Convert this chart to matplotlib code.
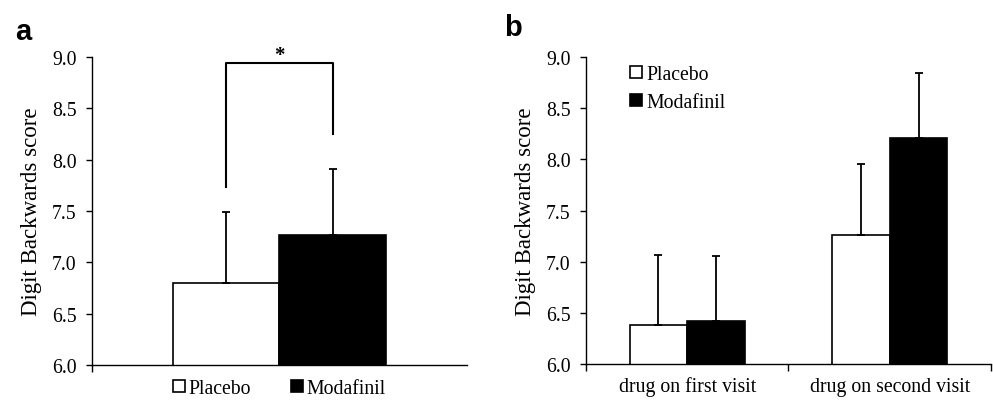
import matplotlib
matplotlib.use("Agg")
import matplotlib.pyplot as plt

plt.rcParams['font.family'] = ['Liberation Serif', 'DejaVu Serif']

# panel a: overall means
cond_a = ["Placebo", "Modafinil"]
mean_a = [6.80, 7.27]
err_a = [0.69, 0.64]

# significance bracket (top, left leg bottom, right leg bottom)
bracket_top = 8.94
bracket_legs = [7.73, 8.25]

# panel b: split by visit
visits = ["drug on first visit", "drug on second visit"]
placebo_b = [6.38, 7.26]
placebo_b_err = [0.69, 0.69]
modafinil_b = [6.42, 8.21]
modafinil_b_err = [0.64, 0.63]

colors = ["white", "black"]
w = 0.285
fs = 14.2

fig = plt.figure(figsize=(9.93, 4.02), dpi=100)
ax1 = fig.add_axes([0.0926, 0.0896, 0.3776, 0.766])
ax2 = fig.add_axes([0.5901, 0.092, 0.4079, 0.7637])


def style(ax):
    ax.set_ylim(6.0, 9.0)
    ax.set_yticks([6.0, 6.5, 7.0, 7.5, 8.0, 8.5, 9.0])
    ax.set_yticklabels(["%.1f" % v for v in ax.get_yticks()], fontsize=fs)
    ax.spines['top'].set_visible(False)
    ax.spines['right'].set_visible(False)
    ax.spines['left'].set_linewidth(1.0)
    ax.spines['bottom'].set_linewidth(1.0)
    ax.tick_params(axis='y', direction='out', length=4, width=1.0, pad=7)
    ax.tick_params(axis='x', direction='out', length=5, width=1.0)
    ax.set_ylabel("Digit Backwards score", fontsize=16.5, labelpad=7)


# ---- panel a
style(ax1)
ax1.set_xlim(0, 1)
xa = [0.5 - w / 2, 0.5 + w / 2]
bars = []
for i in range(2):
    b = ax1.bar(xa[i], mean_a[i], w, color=colors[i], edgecolor="black",
                linewidth=1.2, label=cond_a[i], zorder=2)
    bars.append(b)
    ax1.errorbar(xa[i], mean_a[i], yerr=[[0], [err_a[i]]], fmt="none",
                 ecolor="black", elinewidth=1.3, capsize=2.6, capthick=1.3, zorder=3)
ax1.set_xticks([0])
ax1.set_xticklabels([""])

ax1.plot([xa[0], xa[0], xa[1], xa[1]],
         [bracket_legs[0], bracket_top, bracket_top, bracket_legs[1]],
         color="black", lw=1.5, clip_on=False)
ax1.text(0.5, bracket_top - 0.02, "*", ha="center", va="bottom",
         fontsize=15, fontweight="bold", clip_on=False)

ax1.legend(handles=bars, loc="upper center", bbox_to_anchor=(0.5, -0.02),
           ncol=2, frameon=False, fontsize=fs, handlelength=0.6, handleheight=0.6,
           handletextpad=0.2, columnspacing=2.0, borderaxespad=0)

fig.text(0.015, 0.955, "a", fontsize=21, fontweight="bold",
         family="Liberation Sans", va="top")

# ---- panel b
style(ax2)
ax2.set_xlim(0, 2)
centers = [0.5, 1.5]
bp = ax2.bar([c - w / 2 for c in centers], placebo_b, w, color="white",
             edgecolor="black", linewidth=1.2, label="Placebo", zorder=2)
bm = ax2.bar([c + w / 2 for c in centers], modafinil_b, w, color="black",
             edgecolor="black", linewidth=1.2, label="Modafinil", zorder=2)
ax2.errorbar([c - w / 2 for c in centers], placebo_b,
             yerr=[[0, 0], placebo_b_err], fmt="none", ecolor="black",
             elinewidth=1.3, capsize=2.6, capthick=1.3, zorder=3)
ax2.errorbar([c + w / 2 for c in centers], modafinil_b,
             yerr=[[0, 0], modafinil_b_err], fmt="none", ecolor="black",
             elinewidth=1.3, capsize=2.6, capthick=1.3, zorder=3)
ax2.set_xticks([0, 1, 2])
ax2.set_xticklabels(["", "", ""])
ax2.set_xticks(centers, minor=True)
ax2.set_xticklabels(visits, minor=True, fontsize=fs)
ax2.tick_params(axis='x', which='minor', length=0, pad=9)

ax2.legend(handles=[bp, bm], loc="upper left", bbox_to_anchor=(0.09, 1.0),
           frameon=False, fontsize=fs, handlelength=0.6, handleheight=0.6,
           handletextpad=0.2, labelspacing=0.45, borderaxespad=0)

fig.text(0.508, 0.965, "b", fontsize=21, fontweight="bold",
         family="Liberation Sans", va="top")

fig.savefig("out.png", dpi=100)
